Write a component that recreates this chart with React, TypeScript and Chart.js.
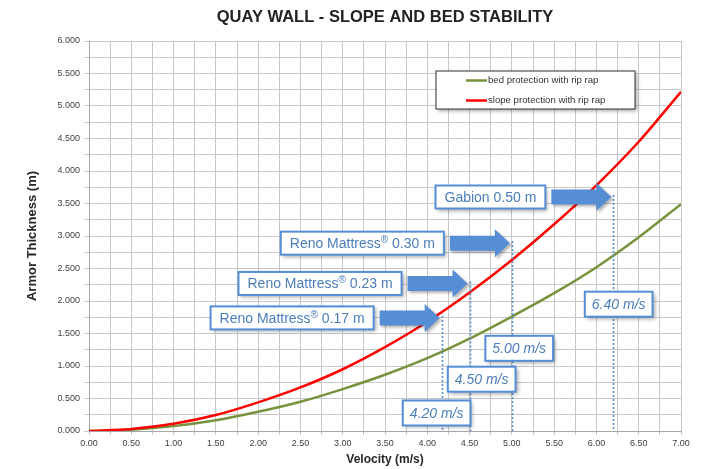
import { useEffect, useRef } from "react";
import { Chart, registerables } from "chart.js";

Chart.register(...registerables);

// ---------- data ----------
const velocities = [0, 0.5, 1, 1.5, 2, 2.5, 3, 3.5, 4, 4.5, 5, 5.5, 6, 6.5, 7];
const bedThickness = [0, 0.02, 0.075, 0.165, 0.295, 0.45, 0.645, 0.865, 1.12, 1.42, 1.76, 2.12, 2.52, 2.98, 3.49];
const slopeThickness = [0, 0.03, 0.11, 0.245, 0.44, 0.67, 0.95, 1.29, 1.68, 2.13, 2.63, 3.18, 3.78, 4.45, 5.22];
const seriesNames = ["bed protection with rip rap", "slope protection with rip rap"];
const seriesColors = ["#77933c", "#ff0000"];

const productLabels = ["Reno Mattress® 0.17 m", "Reno Mattress® 0.23 m", "Reno Mattress® 0.30 m", "Gabion 0.50 m"];
const markerVelocity = [4.17, 4.5, 5.0, 6.2];
const markerThickness = [1.74, 2.27, 2.89, 3.6];
const velocityLabels = ["4.20 m/s", "4.50 m/s", "5.00 m/s", "6.40 m/s"];

const xTickStep = 0.25;
const yTickStep = 0.25;

// ---------- layout (label anchor points in axis units) ----------
const velocityLabelAnchorX = [4.11, 4.643, 5.087, 6.263];
const velocityLabelAnchorY = [0.277, 0.797, 1.272, 1.951];

const FAMILY = "'Liberation Sans', Arial, Helvetica, sans-serif";
const BLUE = "#558ed5";
const TEXT_BLUE = "#4a7ebb";

function drawShadowBox(ctx: CanvasRenderingContext2D, x: number, y: number, w: number, h: number, border: string, lw: number) {
  ctx.save();
  ctx.shadowColor = "rgba(0,0,0,0.35)";
  ctx.shadowBlur = 4;
  ctx.shadowOffsetX = 2;
  ctx.shadowOffsetY = 2;
  ctx.fillStyle = "#ffffff";
  ctx.fillRect(x, y, w, h);
  ctx.restore();
  ctx.save();
  ctx.strokeStyle = border;
  ctx.lineWidth = lw;
  ctx.strokeRect(x, y, w, h);
  ctx.restore();
}

const decorPlugin = {
  id: "quayDecor",
  afterDraw(chart: any) {
    const { ctx, chartArea, scales } = chart;
    const xs = scales.x;
    const ys = scales.y;

    // title
    ctx.save();
    ctx.font = `bold 16.5px ${FAMILY}`;
    ctx.fillStyle = "#222222";
    ctx.textAlign = "center";
    ctx.textBaseline = "middle";
    ctx.fillText("QUAY WALL - SLOPE AND BED STABILITY", (chartArea.left + chartArea.right) / 2, 17);
    ctx.restore();

    // dotted verticals
    ctx.save();
    ctx.strokeStyle = BLUE;
    ctx.lineWidth = 1.6;
    ctx.setLineDash([2, 2]);
    markerVelocity.forEach((v, i) => {
      const px = Math.round(xs.getPixelForValue(v)) + 0.5;
      const top = ys.getPixelForValue(markerThickness[i]) - 2;
      const bottom = ys.getPixelForValue(0);
      ctx.beginPath();
      ctx.moveTo(px, top);
      ctx.lineTo(px, bottom);
      ctx.stroke();
    });
    ctx.restore();

    // arrows + product labels
    markerVelocity.forEach((v, i) => {
      const tip = xs.getPixelForValue(v) - 2;
      const cy = ys.getPixelForValue(markerThickness[i]);
      const tail = tip - 60;
      const hs = tip - 15;
      ctx.save();
      ctx.shadowColor = "rgba(0,0,0,0.3)";
      ctx.shadowBlur = 3;
      ctx.shadowOffsetX = 2;
      ctx.shadowOffsetY = 2;
      ctx.fillStyle = BLUE;
      ctx.beginPath();
      ctx.moveTo(tail, cy - 7.5);
      ctx.lineTo(hs, cy - 7.5);
      ctx.lineTo(hs, cy - 14);
      ctx.lineTo(tip, cy);
      ctx.lineTo(hs, cy + 14);
      ctx.lineTo(hs, cy + 7.5);
      ctx.lineTo(tail, cy + 7.5);
      ctx.closePath();
      ctx.fill();
      ctx.restore();

      // label
      const parts = productLabels[i].split("®");
      ctx.save();
      const mainFont = `14px ${FAMILY}`;
      const supFont = `10px ${FAMILY}`;
      ctx.font = mainFont;
      const w0 = ctx.measureText(parts[0]).width;
      let w2 = 0;
      let wSup = 0;
      if (parts.length > 1) {
        w2 = ctx.measureText(parts[1]).width;
        ctx.font = supFont;
        wSup = ctx.measureText("®").width;
      }
      const textW = w0 + wSup + w2;
      const bw = textW + 18;
      const bh = 23;
      const bx = tail - 6 - bw;
      const by = cy - bh / 2;
      drawShadowBox(ctx, bx, by, bw, bh, BLUE, 2);
      ctx.fillStyle = TEXT_BLUE;
      ctx.textBaseline = "middle";
      ctx.textAlign = "left";
      let tx = bx + 9;
      ctx.font = mainFont;
      ctx.fillText(parts[0], tx, cy + 1);
      tx += w0;
      if (parts.length > 1) {
        ctx.font = supFont;
        ctx.fillText("®", tx, cy - 3);
        tx += wSup;
        ctx.font = mainFont;
        ctx.fillText(parts[1], tx, cy + 1);
      }
      ctx.restore();
    });

    // velocity labels
    velocityLabels.forEach((t, i) => {
      const cx = xs.getPixelForValue(velocityLabelAnchorX[i]);
      const cy = ys.getPixelForValue(velocityLabelAnchorY[i]);
      ctx.save();
      ctx.font = `italic 14px ${FAMILY}`;
      const tw = ctx.measureText(t).width;
      const bw = tw + 14;
      const bh = 25;
      drawShadowBox(ctx, cx - bw / 2, cy - bh / 2, bw, bh, BLUE, 2);
      ctx.fillStyle = TEXT_BLUE;
      ctx.textAlign = "center";
      ctx.textBaseline = "middle";
      ctx.fillText(t, cx, cy + 1);
      ctx.restore();
    });

    // legend
    const lw = 199;
    const lh = 38;
    const lx = chartArea.right - 46 - lw;
    const ly = chartArea.top + 30;
    ctx.save();
    drawShadowBox(ctx, lx, ly, lw, lh, "#333333", 1);
    chart.data.datasets.forEach((ds: any, i: number) => {
      const yy = ly + 9.5 + i * 20;
      ctx.strokeStyle = ds.borderColor;
      ctx.lineWidth = 2.5;
      ctx.beginPath();
      ctx.moveTo(lx + 30, yy);
      ctx.lineTo(lx + 51, yy);
      ctx.stroke();
      ctx.fillStyle = "#333333";
      ctx.font = `9.6px ${FAMILY}`;
      ctx.textBaseline = "middle";
      ctx.textAlign = "left";
      ctx.fillText(ds.label, lx + 52, yy);
    });
    ctx.restore();
  },
};

export default function App() {
  const ref = useRef<HTMLCanvasElement | null>(null);

  useEffect(() => {
    if (!ref.current) return;
    Chart.defaults.font.family = FAMILY;
    const chart = new Chart(ref.current, {
      type: "line",
      data: {
        datasets: [
          {
            label: seriesNames[0],
            data: velocities.map((v, i) => ({ x: v, y: bedThickness[i] })),
            borderColor: seriesColors[0],
            backgroundColor: seriesColors[0],
            borderWidth: 2.5,
            pointRadius: 0,
            cubicInterpolationMode: "monotone",
            order: 1,
          },
          {
            label: seriesNames[1],
            data: velocities.map((v, i) => ({ x: v, y: slopeThickness[i] })),
            borderColor: seriesColors[1],
            backgroundColor: seriesColors[1],
            borderWidth: 2.5,
            pointRadius: 0,
            cubicInterpolationMode: "monotone",
            order: 0,
          },
        ],
      },
      options: {
        responsive: false,
        animation: false,
        layout: { padding: { top: 41, right: 23, left: 0, bottom: 0 } },
        plugins: {
          legend: { display: false },
          title: { display: false },
          tooltip: { enabled: false },
        },
        scales: {
          x: {
            type: "linear",
            min: 0,
            max: 7,
            afterFit: (s: any) => {
              s.height = 38;
            },
            ticks: {
              stepSize: xTickStep,
              autoSkip: false,
              maxRotation: 0,
              minRotation: 0,
              padding: 3,
              color: "#404040",
              font: { size: 9, family: FAMILY },
              callback: (v: any) => {
                const n = Number(v);
                return Math.abs(n * 2 - Math.round(n * 2)) < 1e-9 ? n.toFixed(2) : "";
              },
            },
            grid: { color: "#c8c8c8", lineWidth: 1, tickLength: 4 },
            border: { color: "#a6a6a6" },
            title: {
              display: true,
              text: "Velocity (m/s)",
              color: "#262626",
              font: { size: 12, weight: "bold", family: FAMILY },
              padding: { top: 0, bottom: 2 },
            },
          },
          y: {
            type: "linear",
            min: 0,
            max: 6,
            afterFit: (s: any) => {
              s.width = 89;
            },
            ticks: {
              stepSize: yTickStep,
              autoSkip: false,
              padding: 4,
              color: "#404040",
              font: { size: 9, family: FAMILY },
              callback: (v: any) => {
                const n = Number(v);
                return Math.abs(n * 2 - Math.round(n * 2)) < 1e-9 ? n.toFixed(3) : "";
              },
            },
            grid: { color: "#c8c8c8", lineWidth: 1, tickLength: 5 },
            border: { color: "#a6a6a6" },
            title: {
              display: true,
              text: "Armor Thickness (m)",
              color: "#262626",
              font: { size: 13, weight: "bold", family: FAMILY },
              padding: { top: 25, bottom: 0 },
            },
          },
        },
      },
      plugins: [decorPlugin],
    } as any);
    return () => chart.destroy();
  }, []);

  return (
    <div style={{ position: "absolute", left: 0, top: 0, width: 704, height: 469, background: "#ffffff" }}>
      <canvas ref={ref} width={704} height={469} style={{ width: 704, height: 469, display: "block" }} />
    </div>
  );
}
